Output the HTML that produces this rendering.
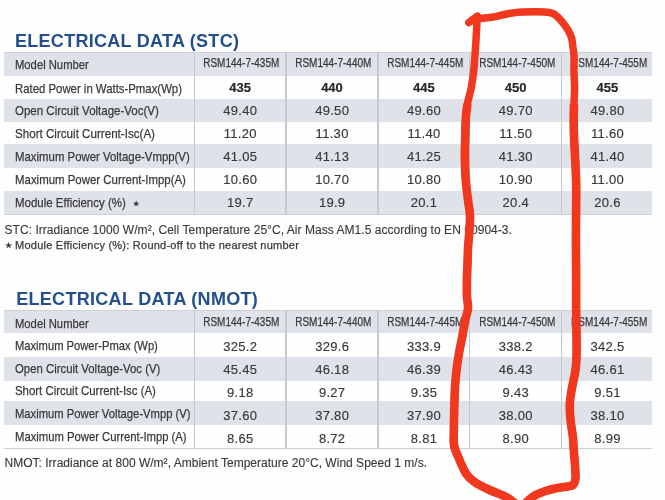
<!DOCTYPE html>
<html><head><meta charset="utf-8"><style>
html,body{margin:0;padding:0}
body{width:665px;height:500px;overflow:hidden;background:#fefefe;font-variant-ligatures:none;-webkit-text-stroke:0.25px currentColor;position:relative;font-family:"Liberation Sans",Arial,sans-serif}
div{position:absolute;white-space:nowrap}
.title{left:15px;font-weight:bold;font-size:18px;line-height:18px;color:#234f8e;letter-spacing:0.28px;-webkit-text-stroke:0}
.t2{left:16.2px;letter-spacing:0.3px}
.g{left:4.2px;width:648.3px;background:#dfe2e8}
.hb{left:4.2px;width:648.3px;height:1.2px;background:#cdd0d5}
.vl{width:1.4px;background:#c6c9cf}
.lab{left:15px;font-size:13.5px;line-height:13.5px;color:#38383c;transform-origin:0 0}
.star{left:132.7px;font-size:7px;line-height:7px;color:#2a2a2e}
.val{font-size:13px;line-height:13px;color:#38383c;text-align:center;letter-spacing:0.3px;text-indent:0.3px;-webkit-text-stroke:0.15px currentColor}
.b{font-weight:bold;color:#262628;letter-spacing:0;text-indent:0}
.mod{font-size:12.5px;line-height:12.5px;color:#38383c;text-align:center;transform:scaleX(0.80)}
.fn{left:4.5px;font-size:12px;line-height:12px;color:#38383c;letter-spacing:0.045px;-webkit-text-stroke:0.12px currentColor}
.fn2{left:4.5px;font-size:11px;line-height:11px;color:#38383c;letter-spacing:0.24px}
.st2{font-size:7.5px;vertical-align:1px}
.red{position:absolute;left:0;top:0}
</style></head><body>
<div class="title" style="top:32.3px">ELECTRICAL DATA (STC)</div>
<div class="g" style="top:51.5px;height:24.3px"></div>
<div class="g" style="top:99.3px;height:23.1px"></div>
<div class="g" style="top:143.8px;height:24.2px"></div>
<div class="g" style="top:191.1px;height:23.7px"></div>
<div class="hb" style="top:51.5px"></div>
<div class="hb" style="top:213.8px"></div>
<div class="vl" style="left:193.5px;top:51.5px;height:163.3px"></div>
<div class="vl" style="left:285.3px;top:51.5px;height:163.3px"></div>
<div class="vl" style="left:377.3px;top:51.5px;height:163.3px"></div>
<div class="vl" style="left:468.9px;top:51.5px;height:163.3px"></div>
<div class="vl" style="left:561.1px;top:51.5px;height:163.3px"></div>
<div class="lab" style="top:58.4px;transform:scaleX(0.833)">Model Number</div>
<div class="mod" style="left:194.2px;width:91.8px;top:57.2px">RSM144-7-435M</div>
<div class="mod" style="left:286px;width:92.0px;top:57.2px">RSM144-7-440M</div>
<div class="mod" style="left:378px;width:91.6px;top:57.2px">RSM144-7-445M</div>
<div class="mod" style="left:469.6px;width:92.2px;top:57.2px">RSM144-7-450M</div>
<div class="mod" style="left:561.8px;width:91.2px;top:57.2px">RSM144-7-455M</div>
<div class="lab" style="top:81.6px;transform:scaleX(0.842)">Rated Power in Watts-Pmax(Wp)</div>
<div class="val b" style="left:194.2px;width:91.8px;top:81.0px">435</div>
<div class="val b" style="left:286px;width:92.0px;top:81.0px">440</div>
<div class="val b" style="left:378px;width:91.6px;top:81.0px">445</div>
<div class="val b" style="left:469.6px;width:92.2px;top:81.0px">450</div>
<div class="val b" style="left:561.8px;width:91.2px;top:81.0px">455</div>
<div class="lab" style="top:103.6px;transform:scaleX(0.852)">Open Circuit Voltage-Voc(V)</div>
<div class="val" style="left:194.2px;width:91.8px;top:104.3px">49.40</div>
<div class="val" style="left:286px;width:92.0px;top:104.3px">49.50</div>
<div class="val" style="left:378px;width:91.6px;top:104.3px">49.60</div>
<div class="val" style="left:469.6px;width:92.2px;top:104.3px">49.70</div>
<div class="val" style="left:561.8px;width:91.2px;top:104.3px">49.80</div>
<div class="lab" style="top:127.2px;transform:scaleX(0.86)">Short Circuit Current-Isc(A)</div>
<div class="val" style="left:194.2px;width:91.8px;top:126.8px">11.20</div>
<div class="val" style="left:286px;width:92.0px;top:126.8px">11.30</div>
<div class="val" style="left:378px;width:91.6px;top:126.8px">11.40</div>
<div class="val" style="left:469.6px;width:92.2px;top:126.8px">11.50</div>
<div class="val" style="left:561.8px;width:91.2px;top:126.8px">11.60</div>
<div class="lab" style="top:150.0px;transform:scaleX(0.844)">Maximum Power Voltage-Vmpp(V)</div>
<div class="val" style="left:194.2px;width:91.8px;top:150.0px">41.05</div>
<div class="val" style="left:286px;width:92.0px;top:150.0px">41.13</div>
<div class="val" style="left:378px;width:91.6px;top:150.0px">41.25</div>
<div class="val" style="left:469.6px;width:92.2px;top:150.0px">41.30</div>
<div class="val" style="left:561.8px;width:91.2px;top:150.0px">41.40</div>
<div class="lab" style="top:172.6px;transform:scaleX(0.847)">Maximum Power Current-Impp(A)</div>
<div class="val" style="left:194.2px;width:91.8px;top:173.0px">10.60</div>
<div class="val" style="left:286px;width:92.0px;top:173.0px">10.70</div>
<div class="val" style="left:378px;width:91.6px;top:173.0px">10.80</div>
<div class="val" style="left:469.6px;width:92.2px;top:173.0px">10.90</div>
<div class="val" style="left:561.8px;width:91.2px;top:173.0px">11.00</div>
<div class="lab" style="top:196.0px;transform:scaleX(0.85)">Module Efficiency (%)</div>
<div class="star" style="top:199.7px">★</div>
<div class="val" style="left:194.2px;width:91.8px;top:196.0px">19.7</div>
<div class="val" style="left:286px;width:92.0px;top:196.0px">19.9</div>
<div class="val" style="left:378px;width:91.6px;top:196.0px">20.1</div>
<div class="val" style="left:469.6px;width:92.2px;top:196.0px">20.4</div>
<div class="val" style="left:561.8px;width:91.2px;top:196.0px">20.6</div>
<div class="fn" style="top:224.4px">STC: Irradiance 1000 W/m², Cell Temperature 25°C, Air Mass AM1.5 according to EN 60904-3.</div>
<div class="fn2" style="top:239.5px"><span class="st2">★</span> Module Efficiency (%): Round-off to the nearest number</div>
<div class="title t2" style="top:290.4px">ELECTRICAL DATA (NMOT)</div>
<div class="g" style="top:310.0px;height:23.4px"></div>
<div class="g" style="top:357.0px;height:24.0px"></div>
<div class="g" style="top:401.0px;height:23.6px"></div>
<div class="hb" style="top:310.0px"></div>
<div class="hb" style="top:448.2px"></div>
<div class="vl" style="left:193.5px;top:310.0px;height:139.2px"></div>
<div class="vl" style="left:285.3px;top:310.0px;height:139.2px"></div>
<div class="vl" style="left:377.3px;top:310.0px;height:139.2px"></div>
<div class="vl" style="left:468.9px;top:310.0px;height:139.2px"></div>
<div class="vl" style="left:561.1px;top:310.0px;height:139.2px"></div>
<div class="lab" style="top:316.5px;transform:scaleX(0.833)">Model Number</div>
<div class="mod" style="left:194.2px;width:91.8px;top:316.4px">RSM144-7-435M</div>
<div class="mod" style="left:286px;width:92.0px;top:316.4px">RSM144-7-440M</div>
<div class="mod" style="left:378px;width:91.6px;top:316.4px">RSM144-7-445M</div>
<div class="mod" style="left:469.6px;width:92.2px;top:316.4px">RSM144-7-450M</div>
<div class="mod" style="left:561.8px;width:91.2px;top:316.4px">RSM144-7-455M</div>
<div class="lab" style="top:339.0px;transform:scaleX(0.828)">Maximum Power-Pmax (Wp)</div>
<div class="val" style="left:194.2px;width:91.8px;top:340.0px">325.2</div>
<div class="val" style="left:286px;width:92.0px;top:340.0px">329.6</div>
<div class="val" style="left:378px;width:91.6px;top:340.0px">333.9</div>
<div class="val" style="left:469.6px;width:92.2px;top:340.0px">338.2</div>
<div class="val" style="left:561.8px;width:91.2px;top:340.0px">342.5</div>
<div class="lab" style="top:361.8px;transform:scaleX(0.842)">Open Circuit Voltage-Voc (V)</div>
<div class="val" style="left:194.2px;width:91.8px;top:363.0px">45.45</div>
<div class="val" style="left:286px;width:92.0px;top:363.0px">46.18</div>
<div class="val" style="left:378px;width:91.6px;top:363.0px">46.39</div>
<div class="val" style="left:469.6px;width:92.2px;top:363.0px">46.43</div>
<div class="val" style="left:561.8px;width:91.2px;top:363.0px">46.61</div>
<div class="lab" style="top:384.1px;transform:scaleX(0.846)">Short Circuit Current-Isc (A)</div>
<div class="val" style="left:194.2px;width:91.8px;top:386.0px">9.18</div>
<div class="val" style="left:286px;width:92.0px;top:386.0px">9.27</div>
<div class="val" style="left:378px;width:91.6px;top:386.0px">9.35</div>
<div class="val" style="left:469.6px;width:92.2px;top:386.0px">9.43</div>
<div class="val" style="left:561.8px;width:91.2px;top:386.0px">9.51</div>
<div class="lab" style="top:406.9px;transform:scaleX(0.833)">Maximum Power Voltage-Vmpp (V)</div>
<div class="val" style="left:194.2px;width:91.8px;top:409.0px">37.60</div>
<div class="val" style="left:286px;width:92.0px;top:409.0px">37.80</div>
<div class="val" style="left:378px;width:91.6px;top:409.0px">37.90</div>
<div class="val" style="left:469.6px;width:92.2px;top:409.0px">38.00</div>
<div class="val" style="left:561.8px;width:91.2px;top:409.0px">38.10</div>
<div class="lab" style="top:429.7px;transform:scaleX(0.835)">Maximum Power Current-Impp (A)</div>
<div class="val" style="left:194.2px;width:91.8px;top:431.6px">8.65</div>
<div class="val" style="left:286px;width:92.0px;top:431.6px">8.72</div>
<div class="val" style="left:378px;width:91.6px;top:431.6px">8.81</div>
<div class="val" style="left:469.6px;width:92.2px;top:431.6px">8.90</div>
<div class="val" style="left:561.8px;width:91.2px;top:431.6px">8.99</div>
<div class="fn" style="top:456.5px;letter-spacing:0.015px">NMOT: Irradiance at 800 W/m², Ambient Temperature 20°C, Wind Speed 1 m/s.</div>
<svg class="red" width="665" height="500" viewBox="0 0 665 500" fill="none" stroke="#f0381e" stroke-width="7.5" stroke-linecap="round" stroke-linejoin="round">
<path d="M468.8,22.6 C469.5,22.0 471.8,20.3 473.2,19.2 C474.6,18.1 476.7,16.7 477.4,16.2"/>
<path d="M477.5,18.4 C478.1,18.4 478.6,18.6 481.0,18.4 C483.4,18.2 488.1,17.9 491.6,17.3 C495.1,16.7 498.5,15.7 502.0,15.0 C505.5,14.3 509.1,13.5 512.6,13.0 C516.1,12.5 517.8,12.2 523.0,12.0 C528.2,11.8 538.9,11.6 544.0,11.9 C549.1,12.2 550.9,12.4 553.7,13.8 C556.5,15.2 558.6,17.8 561.0,20.5 C563.4,23.2 566.2,27.0 568.0,30.0 C569.8,33.0 570.9,35.5 571.7,38.5 C572.5,41.5 572.6,45.1 573.0,48.0 C573.4,50.9 573.8,52.0 574.0,56.0 C574.2,60.0 573.9,66.7 574.0,72.0 C574.1,77.3 574.6,82.7 574.6,88.0 C574.6,93.3 574.1,98.7 574.0,104.0 C573.9,109.3 573.7,114.7 573.7,120.0 C573.7,125.3 573.8,130.7 574.0,136.0 C574.2,141.3 574.5,146.7 574.8,152.0 C575.1,157.3 575.4,162.7 575.6,168.0 C575.8,173.3 576.1,178.7 576.2,184.0 C576.3,189.3 576.2,190.7 576.2,200.0 C576.2,209.3 575.9,226.7 575.9,240.0 C575.9,253.3 576.2,268.0 576.2,280.0 C576.2,292.0 576.1,301.3 576.2,312.0 C576.3,322.7 576.6,336.0 576.6,344.0 C576.6,352.0 576.6,355.3 576.4,360.0 C576.2,364.7 575.9,367.3 575.2,372.0 C574.5,376.7 572.9,382.7 572.0,388.0 C571.1,393.3 570.0,398.7 569.8,404.0 C569.5,409.3 570.0,414.7 570.5,420.0 C571.0,425.3 572.2,430.7 572.8,436.0 C573.4,441.3 573.5,446.7 573.9,452.0 C574.3,457.3 575.0,463.5 575.2,468.0 C575.5,472.5 575.8,476.2 575.4,479.0 C575.0,481.8 574.4,483.7 573.0,485.0 C571.6,486.3 570.0,486.1 567.2,486.6 C564.4,487.1 559.7,487.4 556.0,488.2 C552.3,489.0 548.3,490.0 544.8,491.2 C541.3,492.4 537.9,493.7 535.2,495.2 C532.5,496.7 531.0,498.0 528.8,500.0 C526.6,502.0 523.1,505.8 522.0,507.0"/>
<path d="M477.2,16.4 C477.1,17.8 477.0,21.1 476.8,25.0 C476.6,28.9 476.3,34.8 476.0,40.0 C475.7,45.2 475.3,50.7 474.9,56.0 C474.5,61.3 474.2,66.7 473.6,72.0 C473.0,77.3 472.2,82.7 471.2,88.0 C470.2,93.3 468.3,98.7 467.4,104.0 C466.5,109.3 466.0,114.7 465.7,120.0 C465.4,125.3 465.4,130.7 465.3,136.0 C465.2,141.3 464.8,146.7 464.8,152.0 C464.8,157.3 464.9,162.7 465.1,168.0 C465.3,173.3 465.6,178.7 466.1,184.0 C466.6,189.3 467.4,194.7 468.0,200.0 C468.6,205.3 469.8,210.7 470.0,216.0 C470.2,221.3 469.6,226.7 469.3,232.0 C469.0,237.3 468.3,242.7 468.0,248.0 C467.7,253.3 467.7,258.7 467.5,264.0 C467.3,269.3 467.0,274.7 466.9,280.0 C466.8,285.3 466.7,291.2 466.9,296.0 C467.1,300.8 468.3,304.5 468.0,308.5 C467.7,312.5 466.2,315.4 465.3,320.0 C464.4,324.6 463.4,330.7 462.4,336.0 C461.4,341.3 460.1,346.7 459.2,352.0 C458.3,357.3 457.5,362.7 456.8,368.0 C456.1,373.3 455.6,378.7 455.2,384.0 C454.8,389.3 454.7,394.7 454.5,400.0 C454.3,405.3 454.2,410.7 454.1,416.0 C454.0,421.3 453.8,427.0 453.8,432.0 C453.8,437.0 453.2,441.3 454.2,446.0 C455.1,450.7 457.5,455.3 459.5,460.0 C461.5,464.7 463.8,470.3 466.3,474.0 C468.8,477.7 470.7,479.3 474.6,482.0 C478.5,484.7 484.3,487.5 489.6,490.0 C494.9,492.5 501.8,494.7 506.2,497.0 C510.6,499.3 514.4,502.8 516.0,504.0"/>
<path stroke-width="8.6" stroke-linecap="butt" d="M574.0,104.0 C574.0,106.7 573.7,114.7 573.7,120.0 C573.7,125.3 573.8,130.7 574.0,136.0 C574.2,141.3 574.5,146.7 574.8,152.0 C575.1,157.3 575.4,162.7 575.6,168.0 C575.8,173.3 576.1,178.7 576.2,184.0 C576.3,189.3 576.2,190.7 576.2,200.0 C576.2,209.3 575.9,226.7 575.9,240.0 C575.9,253.3 576.2,268.0 576.2,280.0 C576.2,292.0 576.1,301.3 576.2,312.0 C576.3,322.7 576.6,336.0 576.6,344.0 C576.6,352.0 576.6,355.3 576.4,360.0 C576.2,364.7 575.9,367.3 575.2,372.0 C574.5,376.7 572.9,382.7 572.0,388.0 C571.1,393.3 570.0,398.7 569.8,404.0 C569.5,409.3 570.0,414.7 570.5,420.0 C571.0,425.3 572.2,430.7 572.8,436.0 C573.4,441.3 573.5,446.7 573.9,452.0 C574.3,457.3 575.0,463.5 575.2,468.0 C575.5,472.5 575.8,476.2 575.4,479.0 C575.0,481.8 574.4,483.7 573.0,485.0 C571.6,486.3 570.0,486.1 567.2,486.6 C564.4,487.1 559.7,487.4 556.0,488.2 C552.3,489.0 548.3,490.0 544.8,491.2 C541.3,492.4 537.9,493.7 535.2,495.2 C532.5,496.7 531.0,498.0 528.8,500.0 C526.6,502.0 523.1,505.8 522.0,507.0"/>
<path stroke-width="8.6" stroke-linecap="butt" d="M467.4,104.0 C467.1,106.7 466.0,114.7 465.7,120.0 C465.4,125.3 465.4,130.7 465.3,136.0 C465.2,141.3 464.8,146.7 464.8,152.0 C464.8,157.3 464.9,162.7 465.1,168.0 C465.3,173.3 465.6,178.7 466.1,184.0 C466.6,189.3 467.4,194.7 468.0,200.0 C468.6,205.3 469.8,210.7 470.0,216.0 C470.2,221.3 469.6,226.7 469.3,232.0 C469.0,237.3 468.3,242.7 468.0,248.0 C467.7,253.3 467.7,258.7 467.5,264.0 C467.3,269.3 467.0,274.7 466.9,280.0 C466.8,285.3 466.7,291.2 466.9,296.0 C467.1,300.8 468.3,304.5 468.0,308.5 C467.7,312.5 466.2,315.4 465.3,320.0 C464.4,324.6 463.4,330.7 462.4,336.0 C461.4,341.3 460.1,346.7 459.2,352.0 C458.3,357.3 457.5,362.7 456.8,368.0 C456.1,373.3 455.6,378.7 455.2,384.0 C454.8,389.3 454.7,394.7 454.5,400.0 C454.3,405.3 454.2,410.7 454.1,416.0 C454.0,421.3 453.8,427.0 453.8,432.0 C453.8,437.0 453.2,441.3 454.2,446.0 C455.1,450.7 457.5,455.3 459.5,460.0 C461.5,464.7 463.8,470.3 466.3,474.0 C468.8,477.7 470.7,479.3 474.6,482.0 C478.5,484.7 484.3,487.5 489.6,490.0 C494.9,492.5 501.8,494.7 506.2,497.0 C510.6,499.3 514.4,502.8 516.0,504.0"/>
</svg>
</body></html>
